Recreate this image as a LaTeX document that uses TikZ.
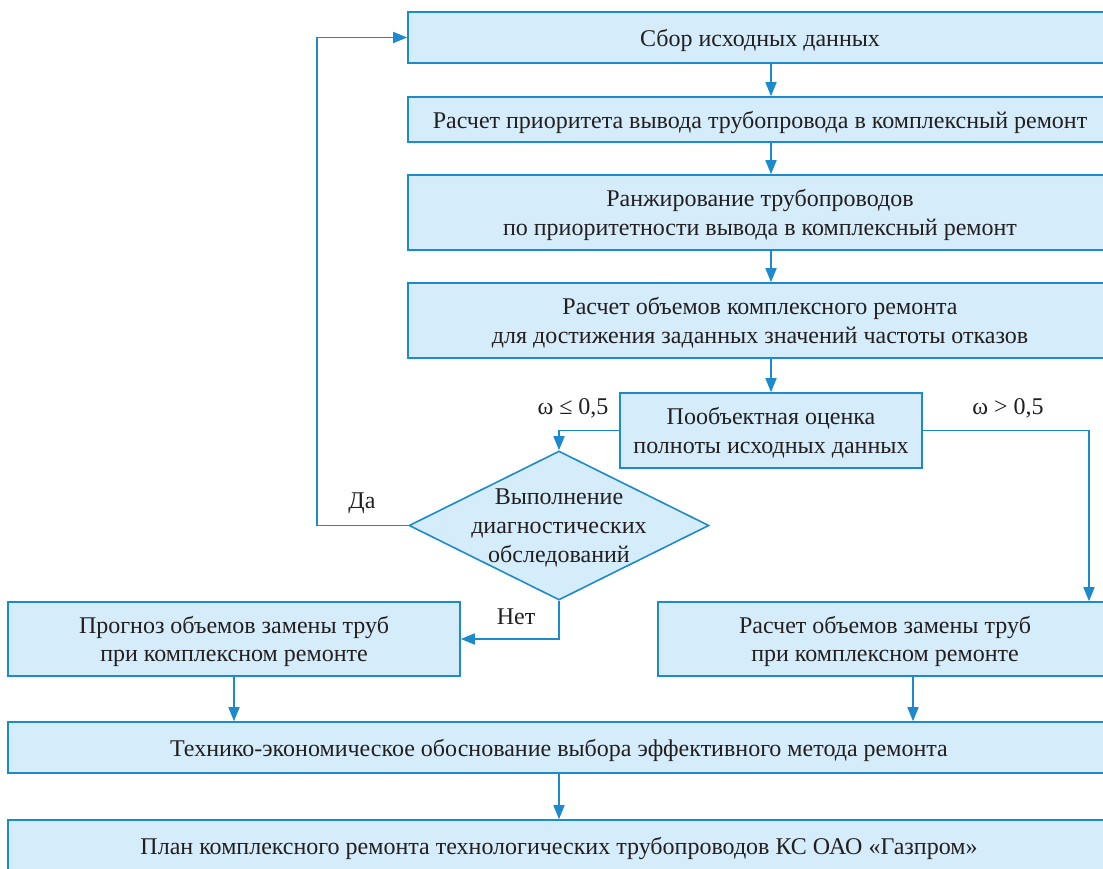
\documentclass[tikz,border=0pt]{standalone}
\usepackage{fontspec}
\setmainfont{Liberation Serif}
\usetikzlibrary{arrows.meta,shapes.geometric}
\definecolor{boxfill}{RGB}{213,236,250}
\definecolor{boxline}{RGB}{28,138,205}
\definecolor{txt}{RGB}{35,31,32}
\tikzset{
  box/.style={draw=boxline,fill=boxfill,line width=1.6pt,rectangle,inner sep=0pt,align=center,text=txt,text depth=0pt,font=\fontsize{24}{28.5}\selectfont},
  dia/.style={draw=boxline,fill=boxfill,line width=1.6pt,diamond,inner sep=0pt,minimum width=300pt,minimum height=149pt},
  lbl/.style={text=txt,font=\fontsize{24}{29}\selectfont,inner sep=0pt},
  arr/.style={draw=boxline,line width=1.6pt,-{Triangle[length=14pt,width=11pt]}},
}
\begin{document}
\begin{tikzpicture}[x=1pt,y=-1pt]
\useasboundingbox (0,0) rectangle (1103,868);
\clip (0,0) rectangle (1103,868);
\node[box,minimum width=704pt,minimum height=51pt] (b1) at (760,37.5) {Сбор исходных данных};
\node[box,minimum width=704pt,minimum height=45pt] (b2) at (760,119.5) {Расчет приоритета вывода трубопровода в комплексный ремонт};
\node[box,minimum width=704pt,minimum height=75pt] (b3) at (760,212.5) {Ранжирование трубопроводов\\по приоритетности вывода в комплексный ремонт};
\node[box,minimum width=704pt,minimum height=75pt] (b4) at (760,320.5) {Расчет объемов комплексного ремонта\\для достижения заданных значений частоты отказов};
\node[box,minimum width=302pt,minimum height=75pt] (b5) at (771,430.5) {Пообъектная оценка\\полноты исходных данных};
\node[dia] (d) at (559,525.5) {};
\node[lbl,align=center,text depth=0pt] (dt) at (d.center) {Выполнение\\диагностических\\обследований};
\node[box,minimum width=452pt,minimum height=74pt] (bl) at (234,639) {Прогноз объемов замены труб\\при комплексном ремонте};
\node[box,minimum width=454pt,minimum height=74pt] (br) at (885,639) {Расчет объемов замены труб\\при комплексном ремонте};
\node[box,minimum width=1102pt,minimum height=51pt] (bt) at (559,747.5) {Технико-экономическое обоснование выбора эффективного метода ремонта};
\node[box,minimum width=1102pt,minimum height=51pt] (bp) at (559,845.5) {План комплексного ремонта технологических трубопроводов КС ОАО «Газпром»};
\coordinate (rc) at (1089,431);
\coordinate (lc) at (317,525.5);
\node[lbl] (l1) at (573,408) {ω ≤ 0,5};
\node[lbl] (l2) at (1008,408) {ω > 0,5};
\node[lbl] (l3) at (362,503) {Да};
\node[lbl] (l4) at (516,617) {Нет};
\draw[arr] (b1.south -| b5.center) -- (b2.north -| b5.center);
\draw[arr] (b2.south -| b5.center) -- (b3.north -| b5.center);
\draw[arr] (b3.south -| b5.center) -- (b4.north -| b5.center);
\draw[arr] (b4.south -| b5.center) -- (b5.north);
\draw[arr] (b5.west) -| (d.north);
\draw[arr] (b5.east) -| (rc |- br.north);
\draw[arr] (d.west) -- (lc) |- (b1.west);
\draw[arr] (d.south) |- (bl.east);
\draw[arr] (bl.south) -- (bl.south |- bt.north);
\draw[arr] ([xshift=28pt]br.south) -- ([xshift=28pt]br.south |- bt.north);
\draw[arr] (bt.south) -- (bp.north);
\end{tikzpicture}
\end{document}
